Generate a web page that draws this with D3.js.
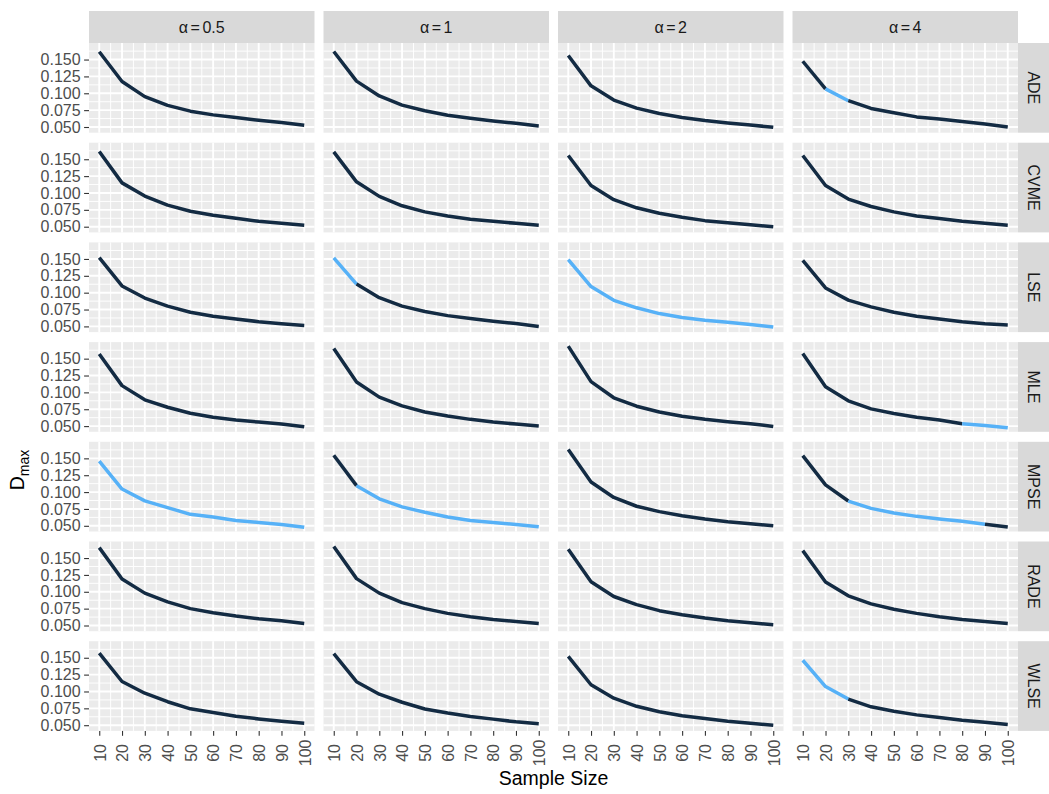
<!DOCTYPE html>
<html>
<head>
<meta charset="utf-8">
<script src="https://cdn.jsdelivr.net/npm/d3@7/dist/d3.min.js"></script>
<style>
  html, body { margin: 0; padding: 0; background: #ffffff; }
  svg { display: block; font-family: "Liberation Sans", Arial, Helvetica, sans-serif; }
</style>
</head>
<body>
<svg id="chart" width="1049" height="794"></svg>
<script>
// Facet labels
const methods = ["ADE", "CVME", "LSE", "MLE", "MPSE", "RADE", "WLSE"];
const alphas = ["0.5", "1", "2", "4"];
const sampleSizes = [10, 20, 30, 40, 50, 60, 70, 80, 90, 100];
const yTicks = [0.05, 0.075, 0.1, 0.125, 0.15];
const xTicks = [10, 20, 30, 40, 50, 60, 70, 80, 90, 100];

// D_max by sample size, one row per alpha (0.5, 1, 2, 4)
const dmaxADE = [
  [0.1615, 0.1175, 0.0950, 0.0820, 0.0735, 0.0680, 0.0640, 0.0600, 0.0566, 0.0525],
  [0.1620, 0.1180, 0.0960, 0.0825, 0.0740, 0.0675, 0.0630, 0.0590, 0.0555, 0.0515],
  [0.1560, 0.1110, 0.0900, 0.0780, 0.0700, 0.0640, 0.0595, 0.0560, 0.0530, 0.0495],
  [0.1475, 0.1065, 0.0890, 0.0775, 0.0710, 0.0650, 0.0620, 0.0580, 0.0545, 0.0500]
];
const dmaxCVME = [
  [0.1615, 0.1150, 0.0955, 0.0820, 0.0730, 0.0670, 0.0625, 0.0580, 0.0550, 0.0520],
  [0.1610, 0.1165, 0.0950, 0.0810, 0.0720, 0.0660, 0.0610, 0.0580, 0.0550, 0.0520],
  [0.1555, 0.1110, 0.0900, 0.0780, 0.0700, 0.0640, 0.0590, 0.0560, 0.0530, 0.0500],
  [0.1555, 0.1110, 0.0910, 0.0800, 0.0720, 0.0660, 0.0620, 0.0580, 0.0550, 0.0520]
];
const dmaxLSE = [
  [0.1520, 0.1100, 0.0920, 0.0800, 0.0710, 0.0650, 0.0610, 0.0570, 0.0540, 0.0515],
  [0.1517, 0.1127, 0.0926, 0.0800, 0.0722, 0.0660, 0.0617, 0.0577, 0.0542, 0.0500],
  [0.1490, 0.1090, 0.0887, 0.0776, 0.0690, 0.0632, 0.0591, 0.0561, 0.0527, 0.0490],
  [0.1480, 0.1070, 0.0890, 0.0790, 0.0710, 0.0650, 0.0610, 0.0570, 0.0540, 0.0520]
];
const dmaxMLE = [
  [0.1570, 0.1100, 0.0890, 0.0780, 0.0690, 0.0630, 0.0590, 0.0560, 0.0530, 0.0490],
  [0.1650, 0.1155, 0.0930, 0.0800, 0.0710, 0.0650, 0.0600, 0.0560, 0.0530, 0.0500],
  [0.1685, 0.1160, 0.0920, 0.0795, 0.0710, 0.0645, 0.0600, 0.0566, 0.0536, 0.0495],
  [0.1575, 0.1085, 0.0875, 0.0755, 0.0686, 0.0630, 0.0590, 0.0536, 0.0510, 0.0476]
];
const dmaxMPSE = [
  [0.1460, 0.1045, 0.0870, 0.0770, 0.0670, 0.0630, 0.0580, 0.0550, 0.0520, 0.0480],
  [0.1545, 0.1095, 0.0900, 0.0780, 0.0700, 0.0630, 0.0580, 0.0550, 0.0520, 0.0485],
  [0.1630, 0.1150, 0.0920, 0.0790, 0.0710, 0.0650, 0.0600, 0.0560, 0.0530, 0.0500],
  [0.1540, 0.1107, 0.0867, 0.0758, 0.0690, 0.0640, 0.0600, 0.0567, 0.0522, 0.0483]
];
const dmaxRADE = [
  [0.1655, 0.1190, 0.0980, 0.0850, 0.0750, 0.0690, 0.0640, 0.0600, 0.0570, 0.0530],
  [0.1670, 0.1195, 0.0980, 0.0840, 0.0750, 0.0680, 0.0630, 0.0590, 0.0560, 0.0530],
  [0.1630, 0.1150, 0.0930, 0.0810, 0.0720, 0.0660, 0.0610, 0.0570, 0.0540, 0.0510],
  [0.1610, 0.1145, 0.0940, 0.0820, 0.0740, 0.0680, 0.0630, 0.0590, 0.0560, 0.0530]
];
const dmaxWLSE = [
  [0.1570, 0.1148, 0.0974, 0.0848, 0.0743, 0.0689, 0.0633, 0.0593, 0.0558, 0.0528],
  [0.1560, 0.1145, 0.0960, 0.0840, 0.0740, 0.0680, 0.0630, 0.0590, 0.0550, 0.0520],
  [0.1520, 0.1100, 0.0900, 0.0780, 0.0700, 0.0640, 0.0600, 0.0560, 0.0530, 0.0500],
  [0.1463, 0.1073, 0.0888, 0.0773, 0.0708, 0.0653, 0.0614, 0.0574, 0.0544, 0.0510]
];

// 1 where the method has the lowest D_max for that alpha and sample size
const bestADE = [
  [0, 0, 0, 0, 0, 0, 0, 0, 0, 0],
  [0, 0, 0, 0, 0, 0, 0, 0, 0, 0],
  [0, 0, 0, 0, 0, 0, 0, 0, 0, 0],
  [0, 1, 0, 0, 0, 0, 0, 0, 0, 0]
];
const bestCVME = [
  [0, 0, 0, 0, 0, 0, 0, 0, 0, 0],
  [0, 0, 0, 0, 0, 0, 0, 0, 0, 0],
  [0, 0, 0, 0, 0, 0, 0, 0, 0, 0],
  [0, 0, 0, 0, 0, 0, 0, 0, 0, 0]
];
const bestLSE = [
  [0, 0, 0, 0, 0, 0, 0, 0, 0, 0],
  [1, 0, 0, 0, 0, 0, 0, 0, 0, 0],
  [1, 1, 1, 1, 1, 1, 1, 1, 1, 1],
  [0, 0, 0, 0, 0, 0, 0, 0, 0, 0]
];
const bestMLE = [
  [0, 0, 0, 0, 0, 0, 0, 0, 0, 0],
  [0, 0, 0, 0, 0, 0, 0, 0, 0, 0],
  [0, 0, 0, 0, 0, 0, 0, 0, 0, 0],
  [0, 0, 0, 0, 0, 0, 0, 1, 1, 1]
];
const bestMPSE = [
  [1, 1, 1, 1, 1, 1, 1, 1, 1, 1],
  [0, 1, 1, 1, 1, 1, 1, 1, 1, 1],
  [0, 0, 0, 0, 0, 0, 0, 0, 0, 0],
  [0, 0, 1, 1, 1, 1, 1, 1, 0, 0]
];
const bestRADE = [
  [0, 0, 0, 0, 0, 0, 0, 0, 0, 0],
  [0, 0, 0, 0, 0, 0, 0, 0, 0, 0],
  [0, 0, 0, 0, 0, 0, 0, 0, 0, 0],
  [0, 0, 0, 0, 0, 0, 0, 0, 0, 0]
];
const bestWLSE = [
  [0, 0, 0, 0, 0, 0, 0, 0, 0, 0],
  [0, 0, 0, 0, 0, 0, 0, 0, 0, 0],
  [0, 0, 0, 0, 0, 0, 0, 0, 0, 0],
  [1, 1, 0, 0, 0, 0, 0, 0, 0, 0]
];

const dmaxByMethod = [dmaxADE, dmaxCVME, dmaxLSE, dmaxMLE, dmaxMPSE, dmaxRADE, dmaxWLSE];
const bestByMethod = [bestADE, bestCVME, bestLSE, bestMLE, bestMPSE, bestRADE, bestWLSE];

// ---- layout ----
const panelLeft = 89, panelTop = 43;
const panelW = 225.5, panelH = 89.7;
const gapX = 9, gapY = 10;
const stripH = 32, stripW = 31;
const nCol = alphas.length, nRow = methods.length;
const textSize = 16;
const fontStack = "Liberation Sans, Arial, Helvetica, sans-serif";

const svg = d3.select("#chart");

// Shared scales (fixed across facets, 5% expansion)
const xExt = d3.extent(sampleSizes);
const xPad = (xExt[1] - xExt[0]) * 0.05;
const x = d3.scaleLinear().domain([xExt[0] - xPad, xExt[1] + xPad]).range([0, panelW]);

const allVals = dmaxByMethod.flat(2);
const yExt = d3.extent(allVals);
const yPad = (yExt[1] - yExt[0]) * 0.05;
const y = d3.scaleLinear().domain([yExt[0] - yPad, yExt[1] + yPad]).range([panelH, 0]);

const colour = d3.scaleLinear().domain([0, 1])
  .range(["#132B43", "#56B1F7"]).interpolate(d3.interpolateLab);

// minor breaks halfway between majors
const yStep = yTicks[1] - yTicks[0];
const yMinor = [];
for (let v = yTicks[0] - yStep / 2; v <= yTicks[yTicks.length - 1] + yStep; v += yStep) {
  if (v >= y.domain()[0] && v <= y.domain()[1]) yMinor.push(v);
}
const xStep = xTicks[1] - xTicks[0];
const xMinor = [];
for (let v = xTicks[0] - xStep / 2; v <= xTicks[xTicks.length - 1] + xStep; v += xStep) {
  if (v >= x.domain()[0] && v <= x.domain()[1]) xMinor.push(v);
}

const fmtY = d3.format(".3f");

// column strips
alphas.forEach((a, c) => {
  const gx = panelLeft + c * (panelW + gapX);
  const g = svg.append("g").attr("transform", `translate(${gx},${panelTop - stripH})`);
  g.append("rect").attr("width", panelW).attr("height", stripH).attr("fill", "#D9D9D9");
  const t = g.append("text")
    .attr("x", panelW / 2).attr("y", stripH / 2)
    .attr("dy", "0.36em")
    .attr("text-anchor", "middle")
    .attr("font-size", textSize).attr("fill", "#1A1A1A");
  t.append("tspan").text("\u03B1");
  t.append("tspan").attr("dx", 2.5).text("=");
  t.append("tspan").attr("dx", 2.5).text(a);
});

// row strips
methods.forEach((m, r) => {
  const gy = panelTop + r * (panelH + gapY);
  const gx = panelLeft + nCol * panelW + (nCol - 1) * gapX;
  const g = svg.append("g").attr("transform", `translate(${gx},${gy})`);
  g.append("rect").attr("width", stripW).attr("height", panelH).attr("fill", "#D9D9D9");
  g.append("text")
    .attr("transform", `translate(${stripW / 2},${panelH / 2}) rotate(90)`)
    .attr("dy", "0.36em")
    .attr("text-anchor", "middle")
    .attr("font-size", textSize).attr("fill", "#1A1A1A")
    .text(m);
});

// panels
methods.forEach((m, r) => {
  alphas.forEach((a, c) => {
    const gx = panelLeft + c * (panelW + gapX);
    const gy = panelTop + r * (panelH + gapY);
    const g = svg.append("g").attr("transform", `translate(${gx},${gy})`);

    g.append("rect").attr("width", panelW).attr("height", panelH).attr("fill", "#EBEBEB");

    g.selectAll("line.ymin").data(yMinor).join("line")
      .attr("x1", 0).attr("x2", panelW)
      .attr("y1", d => y(d)).attr("y2", d => y(d))
      .attr("stroke", "#ffffff").attr("stroke-width", 0.95);
    g.selectAll("line.xmin").data(xMinor).join("line")
      .attr("y1", 0).attr("y2", panelH)
      .attr("x1", d => x(d)).attr("x2", d => x(d))
      .attr("stroke", "#ffffff").attr("stroke-width", 0.95);
    g.selectAll("line.ymaj").data(yTicks).join("line")
      .attr("x1", 0).attr("x2", panelW)
      .attr("y1", d => y(d)).attr("y2", d => y(d))
      .attr("stroke", "#ffffff").attr("stroke-width", 1.9);
    g.selectAll("line.xmaj").data(xTicks).join("line")
      .attr("y1", 0).attr("y2", panelH)
      .attr("x1", d => x(d)).attr("x2", d => x(d))
      .attr("stroke", "#ffffff").attr("stroke-width", 1.9);

    // line drawn in runs of equal colour; each segment takes its start point's colour
    const vals = dmaxByMethod[r][c];
    const best = bestByMethod[r][c];
    const pts = sampleSizes.map((n, i) => ({ n, v: vals[i], b: best[i] }));
    const runs = [];
    for (let i = 0; i < pts.length - 1; i++) {
      const last = runs[runs.length - 1];
      if (last && last.b === pts[i].b) last.pts.push(pts[i + 1]);
      else runs.push({ b: pts[i].b, pts: [pts[i], pts[i + 1]] });
    }
    const line = d3.line().x(d => x(d.n)).y(d => y(d.v));
    g.selectAll("path.run").data(runs).join("path")
      .attr("d", d => line(d.pts))
      .attr("fill", "none")
      .attr("stroke", d => colour(d.b))
      .attr("stroke-width", 3.5)
      .attr("stroke-linejoin", "round")
      .attr("stroke-linecap", "butt");

    // y axis on the first column
    if (c === 0) {
      const ax = g.append("g").call(d3.axisLeft(y).tickValues(yTicks).tickFormat(fmtY)
        .tickSize(4.9).tickPadding(3.5));
      ax.select(".domain").remove();
      ax.selectAll(".tick line").attr("stroke", "#333333").attr("stroke-width", 1.1);
      ax.selectAll(".tick text").attr("fill", "#4D4D4D").attr("font-size", textSize)
        .attr("font-family", fontStack);
    }
    // x axis on the bottom row
    if (r === nRow - 1) {
      const ax = g.append("g").attr("transform", `translate(0,${panelH})`)
        .call(d3.axisBottom(x).tickValues(xTicks).tickSize(4.9).tickFormat(d3.format("d")));
      ax.select(".domain").remove();
      ax.selectAll(".tick line").attr("stroke", "#333333").attr("stroke-width", 1.1);
      ax.selectAll(".tick text")
        .attr("fill", "#4D4D4D").attr("font-size", textSize)
        .attr("font-family", fontStack)
        .attr("text-anchor", "middle")
        .attr("y", 0).attr("dy", "0.36em")
        .attr("transform", "translate(0,22) rotate(-90)");
    }
  });
});

// axis titles
const gridRight = panelLeft + nCol * panelW + (nCol - 1) * gapX;
svg.append("text")
  .attr("x", (panelLeft + gridRight) / 2).attr("y", 785)
  .attr("text-anchor", "middle")
  .attr("font-size", 19.5).attr("fill", "#000000")
  .text("Sample Size");

const yt = svg.append("text")
  .attr("transform", "translate(24,470) rotate(-90)")
  .attr("text-anchor", "middle")
  .attr("font-size", 19.5).attr("fill", "#000000");
yt.append("tspan").text("D");
yt.append("tspan").attr("font-size", 14).attr("dy", 5).text("max");
</script>
</body>
</html>
